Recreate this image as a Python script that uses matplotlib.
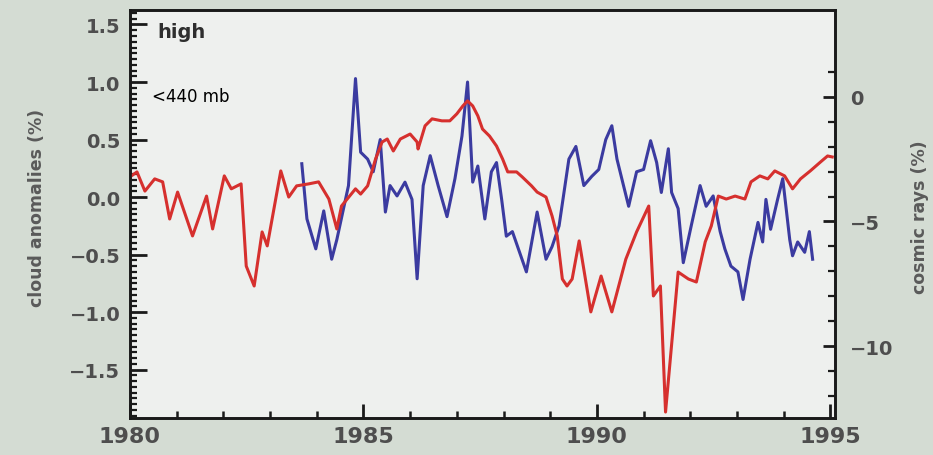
import matplotlib
matplotlib.use("Agg")
import matplotlib.pyplot as plt
from matplotlib.ticker import FixedLocator, MultipleLocator, FuncFormatter

# High-cloud anomalies (%), left axis
cloud_years = [1983.68, 1983.79, 1983.98, 1984.15, 1984.32, 1984.43, 1984.68, 1984.83,
               1984.94, 1985.09, 1985.21, 1985.36, 1985.47, 1985.57, 1985.72, 1985.89,
               1986.04, 1986.15, 1986.28, 1986.43, 1986.60, 1986.79, 1986.96, 1987.11,
               1987.23, 1987.34, 1987.45, 1987.60, 1987.74, 1987.85, 1987.96, 1988.06,
               1988.19, 1988.49, 1988.72, 1988.91, 1989.04, 1989.19, 1989.40, 1989.55,
               1989.72, 1989.89, 1990.04, 1990.19, 1990.32, 1990.43, 1990.57, 1990.68,
               1990.85, 1991.00, 1991.15, 1991.28, 1991.38, 1991.53, 1991.60, 1991.74,
               1991.85, 1992.02, 1992.21, 1992.34, 1992.49, 1992.64, 1992.74, 1992.87,
               1993.02, 1993.13, 1993.28, 1993.45, 1993.55, 1993.62, 1993.72, 1993.87,
               1993.98, 1994.13, 1994.19, 1994.30, 1994.45, 1994.55, 1994.62]
cloud_anom = [0.29, -0.19, -0.45, -0.12, -0.54, -0.37, 0.10, 1.03,
              0.39, 0.33, 0.22, 0.50, -0.13, 0.10, 0.01, 0.13,
              -0.02, -0.71, 0.10, 0.36, 0.10, -0.17, 0.16, 0.53,
              1.00, 0.13, 0.27, -0.19, 0.22, 0.30, -0.02, -0.34,
              -0.30, -0.65, -0.13, -0.54, -0.43, -0.25, 0.33, 0.44,
              0.10, 0.18, 0.24, 0.50, 0.62, 0.33, 0.10, -0.08,
              0.22, 0.24, 0.49, 0.30, 0.04, 0.42, 0.04, -0.10,
              -0.57, -0.25, 0.10, -0.08, 0.01, -0.30, -0.45, -0.60,
              -0.65, -0.89, -0.54, -0.22, -0.39, -0.02, -0.28, -0.02,
              0.16, -0.37, -0.51, -0.39, -0.48, -0.30, -0.54]

# Cosmic ray flux change (%), right axis
ray_years = [1980.00, 1980.15, 1980.32, 1980.53, 1980.70, 1980.85, 1981.02, 1981.34,
             1981.64, 1981.77, 1982.02, 1982.17, 1982.38, 1982.49, 1982.66, 1982.83,
             1982.94, 1983.23, 1983.40, 1983.57, 1983.83, 1984.04, 1984.26, 1984.43,
             1984.53, 1984.83, 1984.94, 1985.09, 1985.26, 1985.40, 1985.51, 1985.64,
             1985.79, 1986.00, 1986.15, 1986.17, 1986.32, 1986.47, 1986.68, 1986.85,
             1987.00, 1987.13, 1987.23, 1987.34, 1987.45, 1987.55, 1987.70, 1987.85,
             1987.98, 1988.09, 1988.28, 1988.40, 1988.60, 1988.72, 1988.91, 1989.04,
             1989.15, 1989.26, 1989.36, 1989.47, 1989.62, 1989.87, 1990.09, 1990.32,
             1990.62, 1990.85, 1991.11, 1991.21, 1991.36, 1991.47, 1991.74, 1991.96,
             1992.13, 1992.32, 1992.45, 1992.60, 1992.77, 1992.96, 1993.17, 1993.30,
             1993.49, 1993.66, 1993.81, 1994.02, 1994.19, 1994.36, 1994.57, 1994.79,
             1994.94, 1995.04]
ray_anom = [-3.21, -3.01, -3.78, -3.29, -3.41, -4.90, -3.82, -5.58,
            -3.98, -5.30, -3.17, -3.69, -3.49, -6.79, -7.59, -5.42,
            -5.98, -2.97, -4.02, -3.57, -3.49, -3.41, -4.10, -5.30,
            -4.38, -3.69, -3.90, -3.57, -2.49, -1.81, -1.69, -2.17,
            -1.69, -1.49, -1.81, -2.09, -1.16, -0.88, -0.96, -0.96,
            -0.68, -0.36, -0.16, -0.36, -0.76, -1.29, -1.57, -1.97,
            -2.49, -3.01, -3.01, -3.21, -3.57, -3.82, -4.02, -4.78,
            -5.58, -7.31, -7.59, -7.31, -5.78, -8.63, -7.19, -8.63,
            -6.51, -5.42, -4.38, -7.99, -7.59, -12.65, -7.03, -7.31,
            -7.43, -5.82, -5.18, -3.98, -4.10, -3.98, -4.10, -3.41,
            -3.17, -3.29, -2.97, -3.17, -3.69, -3.29, -2.97, -2.61,
            -2.37, -2.41]

x_ticks = [1980, 1985, 1990, 1995]
left_ticks = [-1.5, -1.0, -0.5, 0.0, 0.5, 1.0, 1.5]
right_ticks = [-10, -5, 0]

plt.rcParams["font.family"] = "DejaVu Sans"
tick_color = "#4e4e4e"

fig = plt.figure(figsize=(9.33, 4.56), dpi=100, facecolor="#d4dcd3")
ax = fig.add_axes([0.1393, 0.0811, 0.7557, 0.8948])
ax.set_facecolor("#eef0ee")

ax.plot(cloud_years, cloud_anom, color="#3b3ba0", lw=2.2, solid_joinstyle="round")
ax.set_xlim(1980, 1995.1)
ax.set_ylim(-1.92, 1.626)

ax2 = ax.twinx()
ax2.plot(ray_years, ray_anom, color="#d6302e", lw=2.2, solid_joinstyle="round")
ax2.set_ylim(-12.89, 3.49)

for a in (ax, ax2):
    for s in a.spines.values():
        s.set_linewidth(1.9)
        s.set_color("#1a1a1a")

# x axis
ax.xaxis.set_major_locator(FixedLocator(x_ticks))
ax.xaxis.set_minor_locator(MultipleLocator(1))
ax.tick_params(axis="x", which="major", direction="in", length=10, width=2,
               colors="#1a1a1a", labelcolor=tick_color, labelsize=16, pad=6, top=False)
ax.tick_params(axis="x", which="minor", direction="in", length=5, width=1.8,
               colors="#1a1a1a", top=False)

# left axis
ax.yaxis.set_major_locator(FixedLocator(left_ticks))
ax.yaxis.set_minor_locator(MultipleLocator(0.05))
ax.yaxis.set_major_formatter(FuncFormatter(lambda v, p: f"{v:.1f}".replace("-", "\u2212")))
ax.tick_params(axis="y", which="major", direction="in", length=12, width=2,
               colors="#1a1a1a", labelcolor=tick_color, labelsize=14, pad=7, right=False)
ax.tick_params(axis="y", which="minor", direction="in", length=5, width=1.6,
               colors="#1a1a1a", right=False)

# right axis
ax2.yaxis.set_major_locator(FixedLocator(right_ticks))
ax2.yaxis.set_minor_locator(FixedLocator(list(range(-12, 2))))
ax2.yaxis.set_major_formatter(FuncFormatter(lambda v, p: f"{v:.0f}".replace("-", "\u2212")))
ax2.tick_params(axis="y", which="major", direction="in", length=9, width=2,
                colors="#1a1a1a", labelcolor=tick_color, labelsize=14, pad=11, left=False)
ax2.tick_params(axis="y", which="minor", direction="in", length=5, width=1.6,
                colors="#1a1a1a", left=False)

for lbl in ax.get_xticklabels() + ax.get_yticklabels() + ax2.get_yticklabels():
    lbl.set_fontweight("bold")

fig.text(37 / 933, 1 - 208 / 456, "cloud anomalies (%)", rotation=90, ha="center",
         va="center", fontsize=12.5, fontweight="bold", color="#5a5a5a")
fig.text(920 / 933, 1 - 217 / 456, "cosmic rays (%)", rotation=90, ha="center",
         va="center", fontsize=12.5, fontweight="bold", color="#5a5a5a")

fig.text(157 / 933, 1 - 33 / 456, "high", ha="left", va="center", fontsize=14,
         fontweight="bold", color="#2e2e2e")
fig.text(152 / 933, 1 - 97 / 456, "<440 mb", ha="left", va="center", fontsize=12,
         fontweight="normal", color="black")

fig.savefig("out.png", dpi=100, facecolor=fig.get_facecolor())
